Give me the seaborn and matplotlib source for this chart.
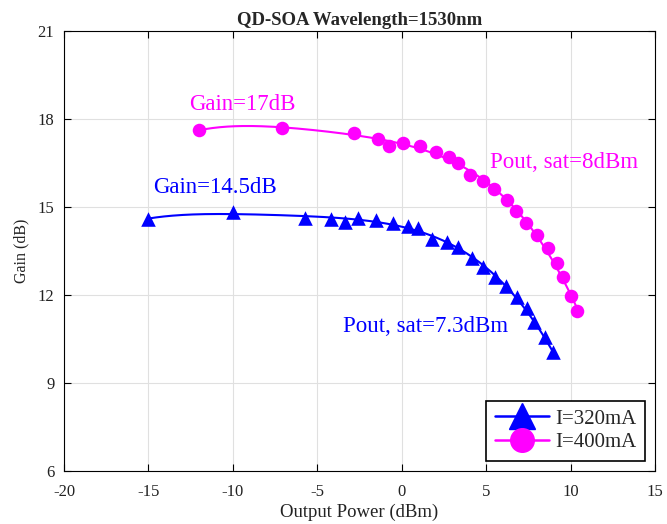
import numpy as np
import pandas as pd
import matplotlib
matplotlib.use("Agg")
import matplotlib.pyplot as plt
import seaborn as sns
from matplotlib.lines import Line2D

# Data
p320 = [-15.03, -10.0, -5.74, -4.2, -3.37, -2.6, -1.54, -0.53, 0.36, 0.95, 1.78, 2.66,
        3.31, 4.14, 4.79, 5.5, 6.15, 6.8, 7.4, 7.81, 8.46, 8.93]
g320 = [14.59, 14.83, 14.62, 14.59, 14.49, 14.62, 14.56, 14.45, 14.35, 14.28, 13.91, 13.81,
        13.64, 13.26, 12.95, 12.61, 12.31, 11.93, 11.56, 11.08, 10.57, 10.06]
p400 = [-12.01, -7.1, -2.84, -1.42, -0.77, 0.06, 1.07, 2.01, 2.78, 3.31, 4.02, 4.79,
        5.44, 6.21, 6.75, 7.34, 7.99, 8.64, 9.17, 9.53, 10.0, 10.36]
g400 = [17.62, 17.69, 17.52, 17.32, 17.08, 17.18, 17.08, 16.87, 16.70, 16.50, 16.09, 15.89,
        15.61, 15.24, 14.86, 14.45, 14.04, 13.6, 13.09, 12.61, 11.97, 11.45]
labels = ["I=320mA", "I=400mA"]
colors = ["#0000ff", "#ff00ff"]
markers = ["^", "o"]

sns.set_theme(style="whitegrid")
plt.rcParams['font.family'] = ['Liberation Serif', 'DejaVu Serif']
plt.rcParams['axes.unicode_minus'] = False

fig = plt.figure(figsize=(6.67, 5.24), dpi=100)
ax = fig.add_axes([0.096, 0.101, 0.886, 0.840])

for p, g, c, m, lab in zip([p320, p400], [g320, g400], colors, markers, labels):
    coef = np.polyfit(p, g, 4)
    xs = np.linspace(min(p), max(p), 200)
    fit = pd.DataFrame({"x": xs, "y": np.polyval(coef, xs)})
    sns.lineplot(data=fit, x="x", y="y", color=c, lw=1.5, ax=ax)
    pts = pd.DataFrame({"x": p, "y": g})
    sns.scatterplot(data=pts, x="x", y="y", color=c, marker=m,
                    s=110 if m == "^" else 95, edgecolor=c, linewidth=0, ax=ax, zorder=3)

ax.set_xlim(-20, 15)
ax.set_ylim(6, 21)
ax.set_xticks(np.arange(-20, 16, 5))
ax.set_yticks(np.arange(6, 22, 3))
ax.set_facecolor("white")
ax.grid(True, color="#e0e0e0", lw=0.8)
for s in ax.spines.values():
    s.set_color("black")
    s.set_linewidth(0.8)
ax.tick_params(direction="in", length=5, width=0.8, colors="black", labelsize=12,
               top=True, right=True, bottom=True, left=True, labelcolor="#222222")
ax.tick_params(axis="x", pad=9)
ax.tick_params(axis="y", pad=7)
ax.set_xlabel("Output Power (dBm)", fontsize=13.5, labelpad=3, color="#222222")
ax.set_ylabel("Gain (dB)", fontsize=11.5, labelpad=6, color="#222222")
ax.set_title("QD-SOA Wavelength=1530nm", fontsize=13.5, fontweight="bold", pad=4)

ax.text(-12.6, 18.5, "Gain=17dB", color=colors[1], fontsize=16.5, va="center")
ax.text(-14.7, 15.65, "Gain=14.5dB", color=colors[0], fontsize=16.5, va="center")
ax.text(5.2, 16.5, "Pout, sat=8dBm", color=colors[1], fontsize=16.5, va="center")
ax.text(-3.5, 10.94, "Pout, sat=7.3dBm", color=colors[0], fontsize=16.5, va="center")

handles = [Line2D([0], [0], color=c, marker=m, markersize=19 if m == "^" else 17,
                  lw=1.8, markeredgecolor=c)
           for c, m in zip(colors, markers)]
leg = ax.legend(handles, labels, loc="lower right", fontsize=15, frameon=True,
                fancybox=False, edgecolor="black", framealpha=1, handlelength=2.6,
                borderaxespad=0.5, labelspacing=0.2, handletextpad=0.3, borderpad=0.4)
leg.get_frame().set_linewidth(1.2)

fig.savefig("out.png", dpi=100)
